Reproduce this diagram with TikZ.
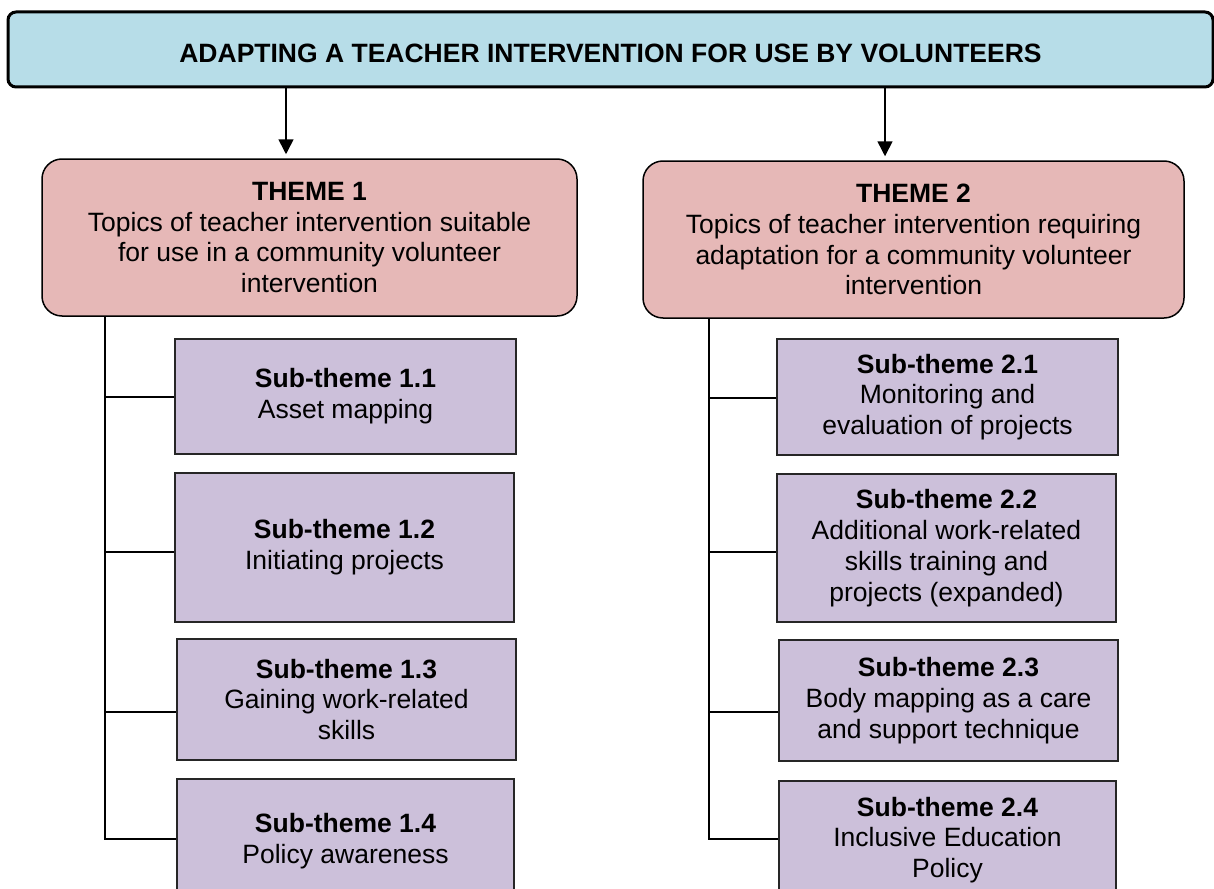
\documentclass[tikz,border=0pt]{standalone}
\usepackage{fontspec}
\setmainfont{Liberation Sans}
\usetikzlibrary{arrows.meta}
\definecolor{titlefill}{HTML}{B7DDE8}
\definecolor{themefill}{HTML}{E6B8B7}
\definecolor{subfill}{HTML}{CCC0DA}
\tikzset{
  txt/.style={font=\fontsize{13.25pt}{15.4pt}\selectfont, align=center, inner sep=0pt},
  titlebox/.style={txt, draw=black, line width=1.5pt, fill=titlefill, rounded corners=4pt, font=\fontsize{13.25pt}{15.4pt}\selectfont\bfseries},
  themebox/.style={txt, draw=black, line width=0.75pt, fill=themefill, rounded corners=10pt},
  subbox/.style={txt, draw=black!85, line width=1pt, fill=subfill},
  conn/.style={draw=black, line width=0.75pt},
  arr/.style={draw=black, line width=0.8pt, -{Triangle[length=7.5pt,width=7.5pt]}, shorten >=2pt}
}
\begin{document}
\begin{tikzpicture}[x=0.5pt,y=-0.5pt]
\clip (0,0) rectangle (1214,888);
\fill[white] (0,0) rectangle (1214,888);

% title
\node[titlebox, minimum width=602.5pt, minimum height=37.5pt, text height=13.5pt, text depth=0pt] (title) at (610.5,49.5) {ADAPTING A TEACHER INTERVENTION FOR USE BY VOLUNTEERS};

% themes
\node[themebox, minimum width=267.5pt, minimum height=78.5pt] (t1) at (309.5,237.5)
  {\textbf{THEME 1}\\Topics of teacher intervention suitable\\for use in a community volunteer\\intervention};
\node[themebox, minimum width=270.5pt, minimum height=78.5pt] (t2) at (913.5,239.5)
  {\textbf{THEME 2}\\Topics of teacher intervention requiring\\adaptation for a community volunteer\\intervention};

% sub-themes, theme 1
\node[subbox, minimum width=170.5pt, minimum height=57.5pt] (s11) at (345.5,396.5) {\textbf{Sub-theme 1.1}\\Asset mapping};
\node[subbox, minimum width=169.5pt, minimum height=74.5pt] (s12) at (344.5,547.5) {\textbf{Sub-theme 1.2}\\Initiating projects};
\node[subbox, minimum width=169.5pt, minimum height=60.5pt] (s13) at (346.5,699.5) {\textbf{Sub-theme 1.3}\\Gaining work-related\\skills};
\node[subbox, minimum width=168.5pt, minimum height=62.5pt] (s14) at (345.5,841.5) {\textbf{Sub-theme 1.4}\\Policy awareness};

% sub-themes, theme 2
\node[subbox, minimum width=170.5pt, minimum height=58pt] (s21) at (947.5,397) {\textbf{Sub-theme 2.1}\\Monitoring and\\evaluation of projects};
\node[subbox, minimum width=169.5pt, minimum height=74pt] (s22) at (946.5,548) {\textbf{Sub-theme 2.2}\\Additional work-related\\skills training and\\projects (expanded)};
\node[subbox, minimum width=169.5pt, minimum height=60.5pt] (s23) at (948.5,700.5) {\textbf{Sub-theme 2.3}\\Body mapping as a care\\and support technique};
\node[subbox, minimum width=168.5pt, minimum height=59pt] (s24) at (947.5,840) {\textbf{Sub-theme 2.4}\\Inclusive Education\\Policy};

% arrows
\coordinate (a1) at (286,0);
\coordinate (a2) at (885,0);
\draw[arr] (title.south -| a1) -- (t1.north -| a1);
\draw[arr] (title.south -| a2) -- (t2.north -| a2);

% trunk of theme 1
\coordinate (j11) at (105,397);
\coordinate (j12) at (105,552);
\coordinate (j13) at (105,712);
\coordinate (j14) at (105,839);
\draw[conn] (t1.south -| j14) -- (j14) -- (s14.west |- j14);
\draw[conn] (j11) -- (s11.west |- j11);
\draw[conn] (j12) -- (s12.west |- j12);
\draw[conn] (j13) -- (s13.west |- j13);

% trunk of theme 2
\coordinate (j21) at (709,398);
\coordinate (j22) at (709,552);
\coordinate (j23) at (709,712);
\coordinate (j24) at (709,839);
\draw[conn] (t2.south -| j24) -- (j24) -- (s24.west |- j24);
\draw[conn] (j21) -- (s21.west |- j21);
\draw[conn] (j22) -- (s22.west |- j22);
\draw[conn] (j23) -- (s23.west |- j23);
\end{tikzpicture}
\end{document}
